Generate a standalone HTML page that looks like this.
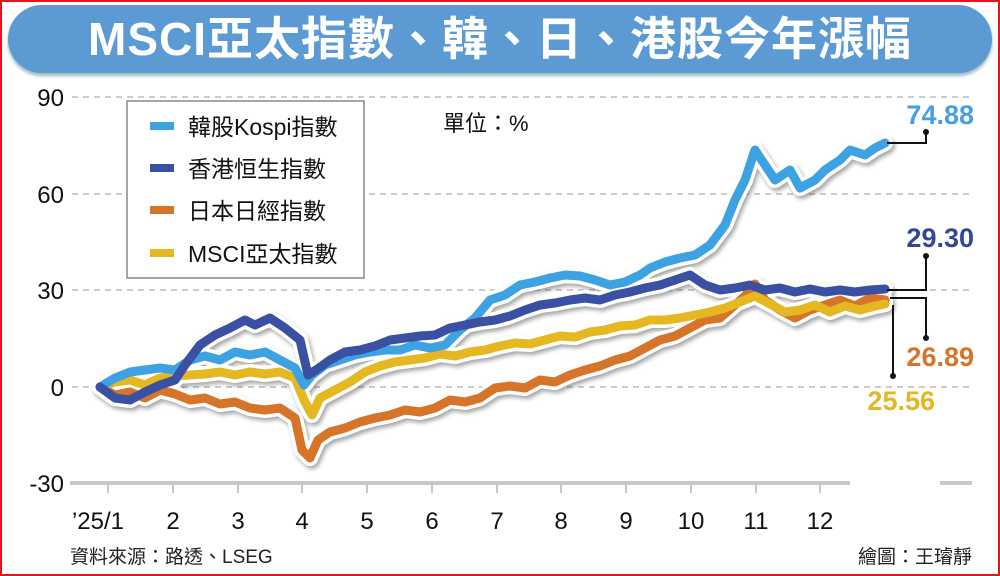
<!DOCTYPE html>
<html><head><meta charset="utf-8"><style>
html,body{margin:0;padding:0;background:#fff}
body{width:1000px;height:576px;position:relative;overflow:hidden;font-family:"Liberation Sans","Noto Sans CJK TC",sans-serif}
.frame{position:absolute;left:0;top:0;width:996px;height:572px;border:2px solid #e8141c}
.banner{position:absolute;left:8px;top:5px;width:984px;height:68px;background:#5c9ad4;border-radius:34px;box-shadow:0 3px 3px #9bb;color:#fff;font-weight:bold;font-size:46px;text-align:center;line-height:68px;letter-spacing:1px}
.t{position:absolute;white-space:nowrap}
</style></head><body>
<div class="frame"></div>
<div class="banner">MSCI亞太指數、韓、日、港股今年漲幅</div>
<svg class="t" style="left:0;top:0" width="1000" height="576">
<defs><filter id="sh" x="-5%" y="-5%" width="110%" height="110%"><feDropShadow dx="2" dy="3" stdDeviation="2" flood-color="#000" flood-opacity="0.35"/></filter></defs>
<g stroke="#bbb" stroke-width="1.5" stroke-dasharray="6,5">
<line x1="72" y1="97" x2="970" y2="97"/><line x1="72" y1="194" x2="970" y2="194"/><line x1="72" y1="290" x2="970" y2="290"/><line x1="72" y1="387" x2="970" y2="387"/>
</g>
<line x1="70" y1="483" x2="850" y2="483" stroke="#c8c8c8" stroke-width="4"/>
<line x1="940" y1="483" x2="972" y2="483" stroke="#c8c8c8" stroke-width="4"/>
<g stroke="#c8c8c8" stroke-width="2">
<line x1="108" y1="483" x2="108" y2="493"/><line x1="173" y1="483" x2="173" y2="493"/><line x1="238" y1="483" x2="238" y2="493"/><line x1="302" y1="483" x2="302" y2="493"/><line x1="367" y1="483" x2="367" y2="493"/><line x1="432" y1="483" x2="432" y2="493"/><line x1="497" y1="483" x2="497" y2="493"/><line x1="561" y1="483" x2="561" y2="493"/><line x1="626" y1="483" x2="626" y2="493"/><line x1="691" y1="483" x2="691" y2="493"/><line x1="756" y1="483" x2="756" y2="493"/><line x1="820" y1="483" x2="820" y2="493"/>
</g>
<g fill="none" stroke-linejoin="round" stroke-linecap="round">
<g stroke="#fff" stroke-width="16" filter="url(#sh)">
<polyline points="100,387 115,395 130,392 145,398 160,390 175,394 190,400 205,398 220,404 235,402 250,408 265,410 280,408 295,418 302,450 310,458 318,440 330,432 345,428 360,422 375,418 390,415 405,410 420,412 435,408 450,400 465,402 480,398 495,388 510,386 525,388 540,380 555,382 570,375 585,370 600,366 615,360 630,356 645,348 660,340 675,336 690,328 705,320 720,318 735,305 745,296 755,284 765,300 780,310 795,318 810,310 825,305 840,300 855,306 870,298 885,300"/>
<polyline points="100,387 115,382 130,380 145,385 160,378 175,376 190,375 205,374 220,372 235,375 250,372 265,374 280,372 295,378 304,400 312,415 320,398 335,390 350,382 365,372 380,366 395,362 410,360 425,358 440,354 455,356 470,352 485,350 500,346 515,343 530,344 545,340 560,336 575,337 590,332 605,330 620,326 635,325 650,320 665,320 680,318 695,315 710,312 725,308 740,302 755,296 770,304 785,312 800,310 815,305 830,312 845,306 860,310 875,306 885,304"/>
<polyline points="100,387 115,378 130,372 145,370 160,368 175,370 190,360 205,356 220,360 235,352 250,355 265,352 280,360 295,368 304,385 312,375 325,365 340,360 355,355 370,352 385,350 400,350 415,345 430,348 445,345 460,330 475,318 490,300 505,295 520,285 535,282 550,278 565,275 580,276 595,280 610,285 625,282 640,275 650,268 665,262 680,258 695,255 710,245 725,225 735,200 745,180 755,150 765,165 775,180 790,170 800,188 815,180 825,170 840,160 850,150 865,155 875,148 885,143"/>
<polyline points="100,387 115,398 130,400 145,392 160,385 175,380 185,365 200,345 215,335 230,328 245,320 255,325 270,318 285,328 300,340 308,375 316,370 330,360 345,352 360,350 375,346 390,340 405,338 420,336 435,335 450,328 465,325 480,322 495,320 510,316 525,310 540,305 555,303 570,300 585,298 600,300 615,295 630,292 645,288 660,285 675,280 690,275 705,285 720,290 735,288 750,285 765,290 780,288 795,292 810,289 825,292 840,290 855,292 870,290 885,289"/>
</g>
<polyline stroke="#d6742a" stroke-width="9" points="100,387 115,395 130,392 145,398 160,390 175,394 190,400 205,398 220,404 235,402 250,408 265,410 280,408 295,418 302,450 310,458 318,440 330,432 345,428 360,422 375,418 390,415 405,410 420,412 435,408 450,400 465,402 480,398 495,388 510,386 525,388 540,380 555,382 570,375 585,370 600,366 615,360 630,356 645,348 660,340 675,336 690,328 705,320 720,318 735,305 745,296 755,284 765,300 780,310 795,318 810,310 825,305 840,300 855,306 870,298 885,300"/>
<polyline stroke="#e5b822" stroke-width="9" points="100,387 115,382 130,380 145,385 160,378 175,376 190,375 205,374 220,372 235,375 250,372 265,374 280,372 295,378 304,400 312,415 320,398 335,390 350,382 365,372 380,366 395,362 410,360 425,358 440,354 455,356 470,352 485,350 500,346 515,343 530,344 545,340 560,336 575,337 590,332 605,330 620,326 635,325 650,320 665,320 680,318 695,315 710,312 725,308 740,302 755,296 770,304 785,312 800,310 815,305 830,312 845,306 860,310 875,306 885,304"/>
<polyline stroke="#3da2e2" stroke-width="9" points="100,387 115,378 130,372 145,370 160,368 175,370 190,360 205,356 220,360 235,352 250,355 265,352 280,360 295,368 304,385 312,375 325,365 340,360 355,355 370,352 385,350 400,350 415,345 430,348 445,345 460,330 475,318 490,300 505,295 520,285 535,282 550,278 565,275 580,276 595,280 610,285 625,282 640,275 650,268 665,262 680,258 695,255 710,245 725,225 735,200 745,180 755,150 765,165 775,180 790,170 800,188 815,180 825,170 840,160 850,150 865,155 875,148 885,143"/>
<polyline stroke="#3a50a3" stroke-width="9" points="100,387 115,398 130,400 145,392 160,385 175,380 185,365 200,345 215,335 230,328 245,320 255,325 270,318 285,328 300,340 308,375 316,370 330,360 345,352 360,350 375,346 390,340 405,338 420,336 435,335 450,328 465,325 480,322 495,320 510,316 525,310 540,305 555,303 570,300 585,298 600,300 615,295 630,292 645,288 660,285 675,280 690,275 705,285 720,290 735,288 750,285 765,290 780,288 795,292 810,289 825,292 840,290 855,292 870,290 885,289"/>
</g>
<g stroke="#111" stroke-width="2" fill="none">
<polyline points="887,143 926,143 926,132"/>
<polyline points="887,290 926,290 926,256"/>
<polyline points="890,298 926,298 926,338"/>
<polyline points="893,305 893,376"/>
</g>
<g fill="#111"><circle cx="926" cy="132" r="3"/><circle cx="926" cy="256" r="3"/><circle cx="926" cy="338" r="3"/><circle cx="893" cy="376" r="3"/></g>
<rect x="127" y="101" width="237" height="177" fill="#fff" stroke="#888" stroke-width="1.5"/>
<g stroke-width="8"><line x1="150" y1="126" x2="174" y2="126" stroke="#3da2e2"/><line x1="150" y1="168" x2="174" y2="168" stroke="#3a50a3"/><line x1="150" y1="210" x2="174" y2="210" stroke="#d6742a"/><line x1="150" y1="253" x2="174" y2="253" stroke="#e5b822"/></g>
<g font-size="23" fill="#111" font-family="Liberation Sans,Noto Sans CJK TC,sans-serif">
<text x="188" y="135">韓股Kospi指數</text><text x="188" y="177">香港恒生指數</text><text x="188" y="219">日本日經指數</text><text x="188" y="262">MSCI亞太指數</text>
<text x="443" y="131" font-size="22">單位：%</text>
</g>
<g font-size="24" fill="#111" text-anchor="end"><text x="64" y="106">90</text><text x="64" y="203">60</text><text x="64" y="299">30</text><text x="64" y="396">0</text><text x="64" y="492">-30</text></g>
<g font-size="24" fill="#111" text-anchor="middle"><text x="98" y="529">’25/1</text><text x="173" y="529">2</text><text x="238" y="529">3</text><text x="302" y="529">4</text><text x="367" y="529">5</text><text x="432" y="529">6</text><text x="497" y="529">7</text><text x="561" y="529">8</text><text x="626" y="529">9</text><text x="691" y="529">10</text><text x="756" y="529">11</text><text x="820" y="529">12</text></g>
<g font-size="27" font-weight="bold" text-anchor="end"><text x="974" y="124" fill="#4a9ee0">74.88</text><text x="974" y="247" fill="#33479a">29.30</text><text x="974" y="366" fill="#d6742a">26.89</text><text x="935" y="410" fill="#e5b822">25.56</text></g>
<text x="70" y="563" font-size="19" fill="#222">資料來源：路透、LSEG</text>
<text x="972" y="563" font-size="19" fill="#222" text-anchor="end">繪圖：王璿靜</text>
</svg>
</body></html>
